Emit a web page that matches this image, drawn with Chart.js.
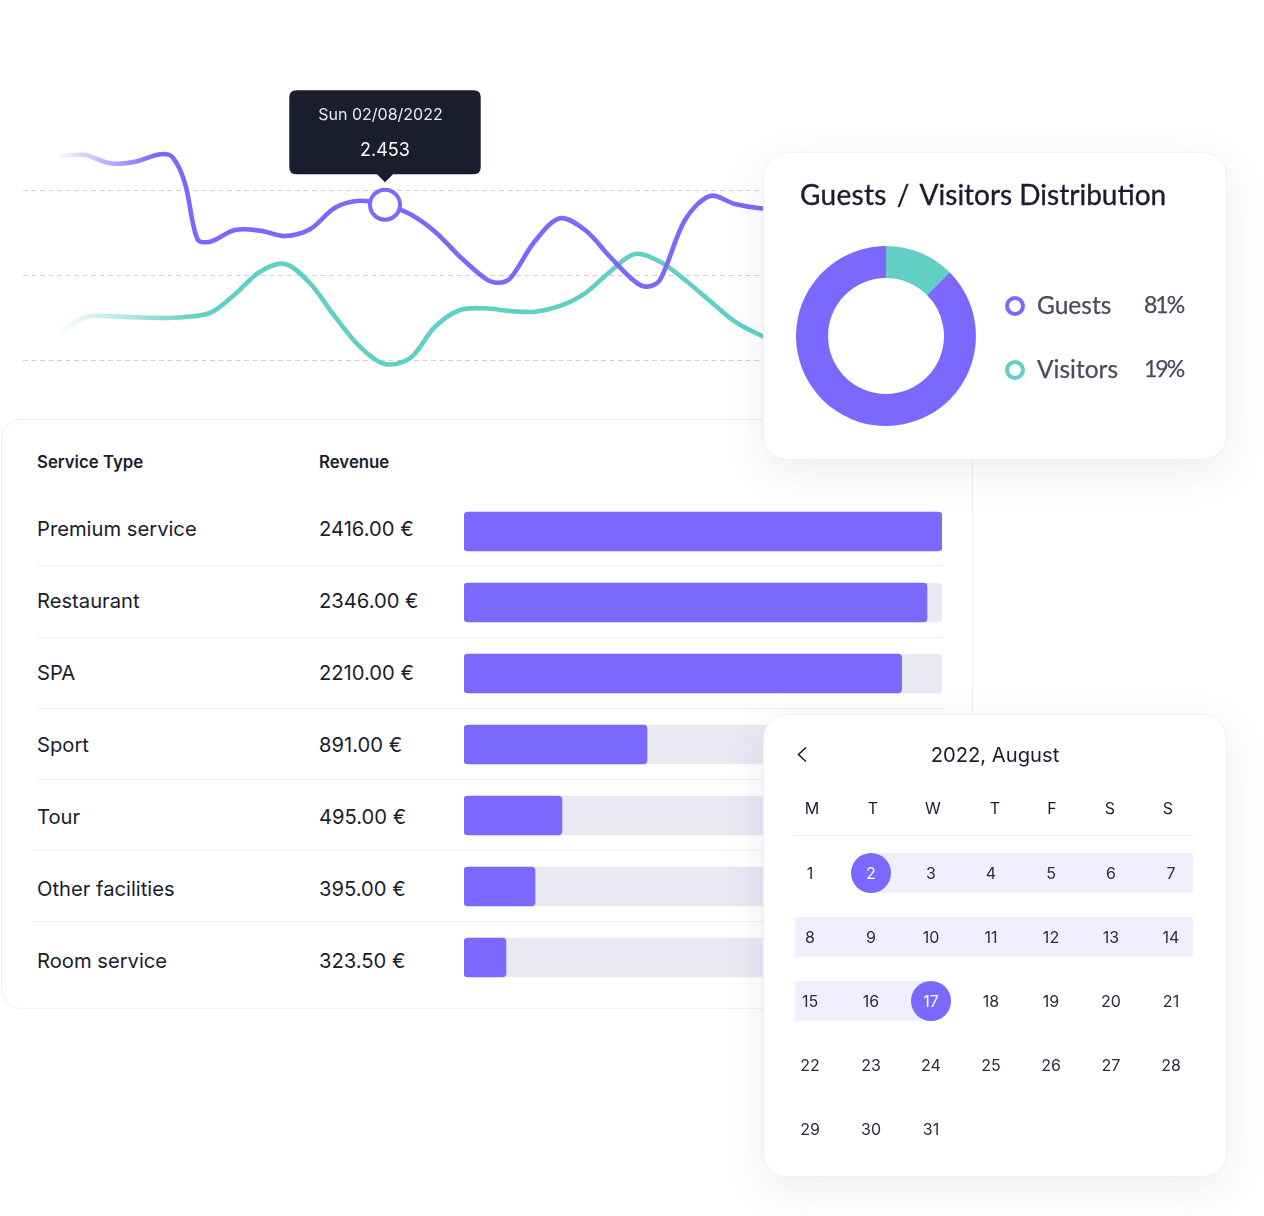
<!DOCTYPE html>
<html>
<head>
<meta charset="utf-8">
<script src="https://cdn.jsdelivr.net/npm/chart.js@4/dist/chart.umd.min.js"></script>
<style>
    html, body { margin: 0; padding: 0; background: #fff; }
    body { position: relative; width: 1264px; height: 1216px; overflow: hidden; font-family: Inter, sans-serif; color: #1b1d2f; }
    canvas { position: absolute; display: block; }
    .card { position: absolute; box-sizing: border-box; background: #fff; border: 1px solid #efeff4; }
    .floating { box-shadow: 0 12px 44px rgba(70, 70, 120, 0.09); z-index: 5; border-radius: 24px; }
    .txt { position: absolute; white-space: nowrap; transform: translateY(-50%); }
    .mid { transform: translate(-50%, -50%); }
    .rule { position: absolute; height: 1px; background: #ececf1; }
    .band { position: absolute; height: 40px; background: #f0effd; }
    .dot { position: absolute; width: 40px; height: 40px; border-radius: 50%; background: #7b68fe; transform: translate(-50%, -50%); }
    .ring { position: absolute; box-sizing: border-box; width: 20px; height: 20px; border-radius: 50%; border: 4px solid; transform: translate(-50%, -50%); }
</style>
</head>
<body>
<canvas id="lineChart" style="left:23px;top:83px;width:750px;height:297px"></canvas>

<div class="card" id="tableCard" style="left:1px;top:419px;width:972px;height:590px;border-radius:20px"></div>

<div class="card floating" id="donutCard" style="left:763px;top:152px;width:464px;height:308px">
    <canvas id="donutChart" style="left:32px;top:93px;width:180px;height:180px"></canvas>
</div>

<div class="card floating" id="calendarCard" style="left:763px;top:714px;width:464px;height:463px"></div>

<script>
// 折线图数据
const lineTitle = 'Sun 02/08/2022';
const gridValues = [0.985, 1.785, 2.585];
const guestDays = [1, 2, 3, 4, 5, 5.5, 6, 6.5, 7, 8, 9, 10, 11, 12, 13, 14, 15, 16, 17, 18, 18.5, 19, 20, 21, 22, 23, 24, 24.5, 25, 26, 27, 28, 29, 30];
const guestValues = [2.912, 2.921, 2.843, 2.858, 2.928, 2.9, 2.654, 2.126, 2.104, 2.214, 2.208, 2.158, 2.221, 2.424, 2.49, 2.453, 2.365, 2.198, 1.962, 1.759, 1.717, 1.757, 2.11, 2.324, 2.214, 1.962, 1.727, 1.68, 1.743, 2.308, 2.535, 2.459, 2.419, 2.412];
const visitorDays = [1, 2, 3, 4, 5, 6, 7, 8, 9, 10, 11, 12, 13, 14, 15, 16, 17, 18, 19, 20, 21, 22, 23, 24, 25, 26, 27, 28, 29, 30];
const visitorValues = [1.255, 1.394, 1.401, 1.391, 1.384, 1.394, 1.432, 1.608, 1.821, 1.894, 1.712, 1.397, 1.114, 0.951, 1.005, 1.302, 1.46, 1.476, 1.45, 1.444, 1.498, 1.617, 1.821, 1.988, 1.915, 1.743, 1.545, 1.35, 1.224, 1.13];
const activeDay = 14;

// 环形图数据 (the drawn slice is smaller than the printed 19%)
const donutLabels = ['Visitors', 'Guests'];
const donutShares = [12.5, 87.5];
const legendNames = ['Guests', 'Visitors'];
const legendPercents = ['81%', '19%'];

// 表格数据
const serviceNames = ['Premium service', 'Restaurant', 'SPA', 'Sport', 'Tour', 'Other facilities', 'Room service'];
const revenueLabels = ['2416.00 €', '2346.00 €', '2210.00 €', '891.00 €', '495.00 €', '395.00 €', '323.50 €'];
const barLengths = [2416, 2340, 2212, 925, 495, 359, 212];
const trackLengths = [2416, 2416, 2416, 2416, 2416, 2416, 2416];

// 日历数据
const weekDays = ['M', 'T', 'W', 'T', 'F', 'S', 'S'];
const monthDays = [
    [1, 2, 3, 4, 5, 6, 7],
    [8, 9, 10, 11, 12, 13, 14],
    [15, 16, 17, 18, 19, 20, 21],
    [22, 23, 24, 25, 26, 27, 28],
    [29, 30, 31]
];
const rangeStart = 2;
const rangeEnd = 17;

const PURPLE = '#7b68fe';
const TEAL = '#62cfc5';
const DARK = '#1b1d2f';

Chart.defaults.font.family = 'Inter, sans-serif';
Chart.defaults.animation = false;

function toPoints(days, values) {
    return days.map((day, i) => ({ x: day, y: values[i] }));
}

// 左侧淡入
function fadeIn(color, fromDay, toDay) {
    return context => {
        const chart = context.chart;
        if (!chart.chartArea) return color;
        const x = chart.scales.x;
        const gradient = chart.ctx.createLinearGradient(x.getPixelForValue(fromDay), 0, x.getPixelForValue(toDay), 0);
        gradient.addColorStop(0, color + '00');
        gradient.addColorStop(1, color);
        return gradient;
    };
}

function initLineChart() {
    const activeIndex = guestDays.indexOf(activeDay);
    const chart = new Chart(document.getElementById('lineChart'), {
        type: 'line',
        data: {
            datasets: [
                {
                    label: 'Guests',
                    data: toPoints(guestDays, guestValues),
                    borderColor: fadeIn(PURPLE, 0.8, 4.8),
                    borderWidth: 4.6,
                    tension: 0.33,
                    pointRadius: c => c.dataIndex === activeIndex ? 15 : 0,
                    pointHoverRadius: c => c.dataIndex === activeIndex ? 15 : 0,
                    pointBackgroundColor: '#fff',
                    pointHoverBackgroundColor: '#fff',
                    pointBorderColor: PURPLE,
                    pointHoverBorderColor: PURPLE,
                    pointBorderWidth: 4,
                    pointHoverBorderWidth: 4
                },
                {
                    label: 'Visitors',
                    data: toPoints(visitorDays, visitorValues),
                    borderColor: fadeIn(TEAL, 0.8, 6.5),
                    borderWidth: 4.6,
                    tension: 0.33,
                    pointRadius: 0
                }
            ]
        },
        options: {
            responsive: false,
            maintainAspectRatio: false,
            events: [],
            layout: { padding: 0, autoPadding: false },
            scales: {
                x: { type: 'linear', display: false, min: -0.48, max: 29.52 },
                y: {
                    min: 0.8,
                    max: 3.6,
                    afterBuildTicks: axis => { axis.ticks = gridValues.map(value => ({ value })); },
                    afterFit: axis => { axis.width = 0; },
                    ticks: { display: false },
                    grid: { color: '#d0d0d4', drawTicks: false, lineWidth: 1 },
                    border: { display: false, dash: [5, 3.5] }
                }
            },
            plugins: {
                legend: { display: false },
                tooltip: {
                    backgroundColor: DARK,
                    cornerRadius: 7,
                    padding: { top: 15, bottom: 13, left: 29, right: 29 },
                    caretSize: 8,
                    caretPadding: 22.5,
                    xAlign: 'center',
                    yAlign: 'bottom',
                    displayColors: false,
                    titleAlign: 'center',
                    bodyAlign: 'center',
                    titleColor: '#e8e8ee',
                    bodyColor: '#fff',
                    titleFont: { size: 16, weight: '400' },
                    bodyFont: { size: 18, weight: '400' },
                    titleMarginBottom: 15,
                    callbacks: {
                        title: () => lineTitle + '  ',
                        label: context => context.parsed.y.toFixed(3)
                    }
                }
            }
        }
    });
    const active = [{ datasetIndex: 0, index: activeIndex }];
    chart.setActiveElements(active);
    chart.tooltip.setActiveElements(active, { x: 0, y: 0 });
    chart.update();
}

function initDonutChart() {
    new Chart(document.getElementById('donutChart'), {
        type: 'doughnut',
        data: {
            labels: donutLabels,
            datasets: [{
                data: donutShares,
                backgroundColor: [TEAL, PURPLE],
                borderWidth: 0
            }]
        },
        options: {
            responsive: false,
            cutout: '64.4%',
            events: [],
            plugins: { legend: { display: false }, tooltip: { enabled: false } }
        }
    });
}

function addText(parent, text, x, y, style, centered) {
    const el = document.createElement('div');
    el.className = centered ? 'txt mid' : 'txt';
    el.textContent = text;
    el.style.left = x + 'px';
    el.style.top = y + 'px';
    Object.assign(el.style, style);
    parent.appendChild(el);
    return el;
}

function addBox(parent, className, x, y, style) {
    const el = document.createElement('div');
    el.className = className;
    el.style.left = x + 'px';
    el.style.top = y + 'px';
    Object.assign(el.style, style || {});
    parent.appendChild(el);
    return el;
}

function buildDonutCard() {
    const card = document.getElementById('donutCard');
    const titleFont = { fontFamily: 'Lato, sans-serif', fontSize: '28px', webkitTextStroke: '0.35px ' + DARK, color: DARK };
    const title = addText(card, '', 36, 41, titleFont);
    title.innerHTML = '<span style="letter-spacing:.3px;word-spacing:2.5px">Guests / </span>Visitors Distribution';
    const legendFont = { fontFamily: 'Lato, sans-serif', fontSize: '24.5px', webkitTextStroke: '0.25px #4a4b5c', color: '#4a4b5c' };
    const percentFont = Object.assign({}, legendFont, { fontSize: '23px', letterSpacing: '-2px' });
    legendNames.forEach((name, i) => {
        const y = 153 + i * 64;
        addBox(card, 'ring', 251, y, { borderColor: i === 0 ? PURPLE : TEAL });
        addText(card, name, 273, y - 2.5, legendFont);
        addText(card, legendPercents[i], 380, y - 2.5, percentFont);
    });
}

function buildTable() {
    const card = document.getElementById('tableCard');
    const headFont = { fontSize: '16.8px', fontWeight: 600 };
    addText(card, 'Service Type', 35, 42, headFont);
    addText(card, 'Revenue', 317, 42, headFont);
    const rowFont = { fontSize: '20.2px' };
    serviceNames.forEach((name, i) => {
        const y = 107.5 + i * 72;
        addText(card, name, 35, y, rowFont);
        addText(card, revenueLabels[i], 317, y, rowFont);
        if (i < serviceNames.length - 1) {
            addBox(card, 'rule', i >= 4 ? 30 : 35, 145.3 + i * 71.2, { width: (i >= 4 ? 910 : 905) + 'px' });
        }
    });

    const canvas = document.createElement('canvas');
    canvas.id = 'barChart';
    canvas.style.cssText = 'left:462px;top:76px;width:478px;height:497px';
    card.appendChild(canvas);
    new Chart(canvas, {
        type: 'bar',
        data: {
            labels: serviceNames,
            datasets: [
                { label: 'Revenue', data: barLengths, backgroundColor: PURPLE, grouped: false, barThickness: 39, borderRadius: 4, borderSkipped: false },
                { label: 'Track', data: trackLengths, backgroundColor: '#e9e9f4', grouped: false, barThickness: 39, borderRadius: 4, borderSkipped: false }
            ]
        },
        options: {
            responsive: false,
            indexAxis: 'y',
            events: [],
            layout: { padding: 0 },
            scales: {
                x: { display: false, min: 0, max: 2416 },
                y: { display: false }
            },
            plugins: { legend: { display: false }, tooltip: { enabled: false } }
        }
    });
}

function buildCalendar() {
    const card = document.getElementById('calendarCard');
    const headerColumns = [48, 109, 169, 231, 288, 346, 404];
    const dayColumns = [46, 107, 167, 227, 287, 347, 407];
    addText(card, '2022, August', 231, 39, { fontSize: '20.2px', fontWeight: 400 }, true);

    // 返回箭头
    const back = document.createElementNS('http://www.w3.org/2000/svg', 'svg');
    back.setAttribute('width', '12');
    back.setAttribute('height', '18');
    back.style.cssText = 'position:absolute;left:32px;top:31px';
    back.innerHTML = '<path d="M10 1.5 L2.5 8.5 L10 15.5" fill="none" stroke="#1b1d2f" stroke-width="1.6"/>';
    card.appendChild(back);

    weekDays.forEach((day, i) => addText(card, day, headerColumns[i], 93, { fontSize: '16px' }, true));
    addBox(card, 'rule', 31, 120, { width: '398px' });

    // 选中范围背景
    addBox(card, 'band', 107, 138, { width: '322px' });
    addBox(card, 'band', 31, 202, { width: '398px' });
    addBox(card, 'band', 31, 266, { width: '136px' });

    monthDays.forEach((week, row) => {
        week.forEach((day, col) => {
            const y = 158 + row * 64;
            const selected = day === rangeStart || day === rangeEnd;
            if (selected) addBox(card, 'dot', dayColumns[col], y);
            addText(card, String(day), dayColumns[col], y, { fontSize: '16px', color: selected ? '#fff' : '#2a2c3d' }, true);
        });
    });
}

initLineChart();
initDonutChart();
buildDonutCard();
buildTable();
buildCalendar();
</script>
</body>
</html>
